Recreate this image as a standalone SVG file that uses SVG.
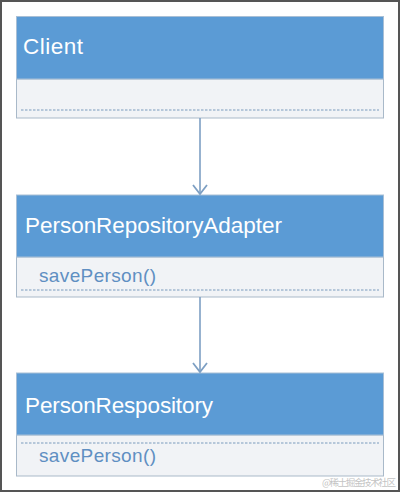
<svg xmlns="http://www.w3.org/2000/svg" width="400" height="492" viewBox="0 0 400 492">
<style>
.hdr{fill:#5b9bd5;stroke:#a8bfd6;stroke-width:1}
.body{fill:#f1f3f6;stroke:#a9b9c9;stroke-width:1}
.sep{stroke:#7a9bbd;stroke-width:1;stroke-dasharray:2.5 1.5}
.title{font-family:"Liberation Sans",Arial,sans-serif;font-size:22.5px;fill:#ffffff}
.op{font-family:"Liberation Sans",Arial,sans-serif;font-size:19px;fill:#5f8fc2}
.conn{stroke:#7d9fc3;stroke-width:1.6;fill:none}
.wm{font-family:"Noto Sans CJK SC",sans-serif;font-size:9.5px;fill:#c4c4c4}
</style>
<defs>
<marker id="arr" markerWidth="12" markerHeight="16" refX="10" refY="8" orient="auto" markerUnits="userSpaceOnUse" viewBox="0 0 12 16">
<path d="M1,1 L10,8 L1,15" fill="none" stroke="#7d9fc3" stroke-width="1.8"/>
</marker>
</defs>
<rect x="1" y="1" width="398" height="490" fill="#ffffff" stroke="#555555" stroke-width="2"/>
<g id="client">
<rect class="body" x="16.5" y="79" width="367" height="39"/>
<rect class="hdr" x="16.5" y="16.5" width="367" height="62.5"/>
<line class="sep" x1="21" y1="110" x2="379" y2="110"/>
<text class="title" x="23" y="54" textLength="60">Client</text>
</g>
<g id="adapter">
<rect class="body" x="16.5" y="257" width="367" height="40"/>
<rect class="hdr" x="16.5" y="195" width="367" height="62"/>
<line class="sep" x1="21" y1="290" x2="379" y2="290"/>
<text class="title" x="25" y="233" textLength="257">PersonRepositoryAdapter</text>
<text class="op" x="39" y="282" textLength="117">savePerson()</text>
</g>
<g id="repository">
<rect class="body" x="16.5" y="435" width="367" height="41"/>
<rect class="hdr" x="16.5" y="373" width="367" height="62"/>
<line class="sep" x1="21" y1="443" x2="379" y2="443"/>
<text class="title" x="25" y="413" textLength="188">PersonRespository</text>
<text class="op" x="39" y="462" textLength="117">savePerson()</text>
</g>
<g id="connectors">
<path class="conn" d="M200,118 V194" marker-end="url(#arr)"/>
<path class="conn" d="M200,297 V372" marker-end="url(#arr)"/>
</g>
<text class="wm" x="322" y="486" textLength="74">@稀土掘金技术社区</text>
</svg>
